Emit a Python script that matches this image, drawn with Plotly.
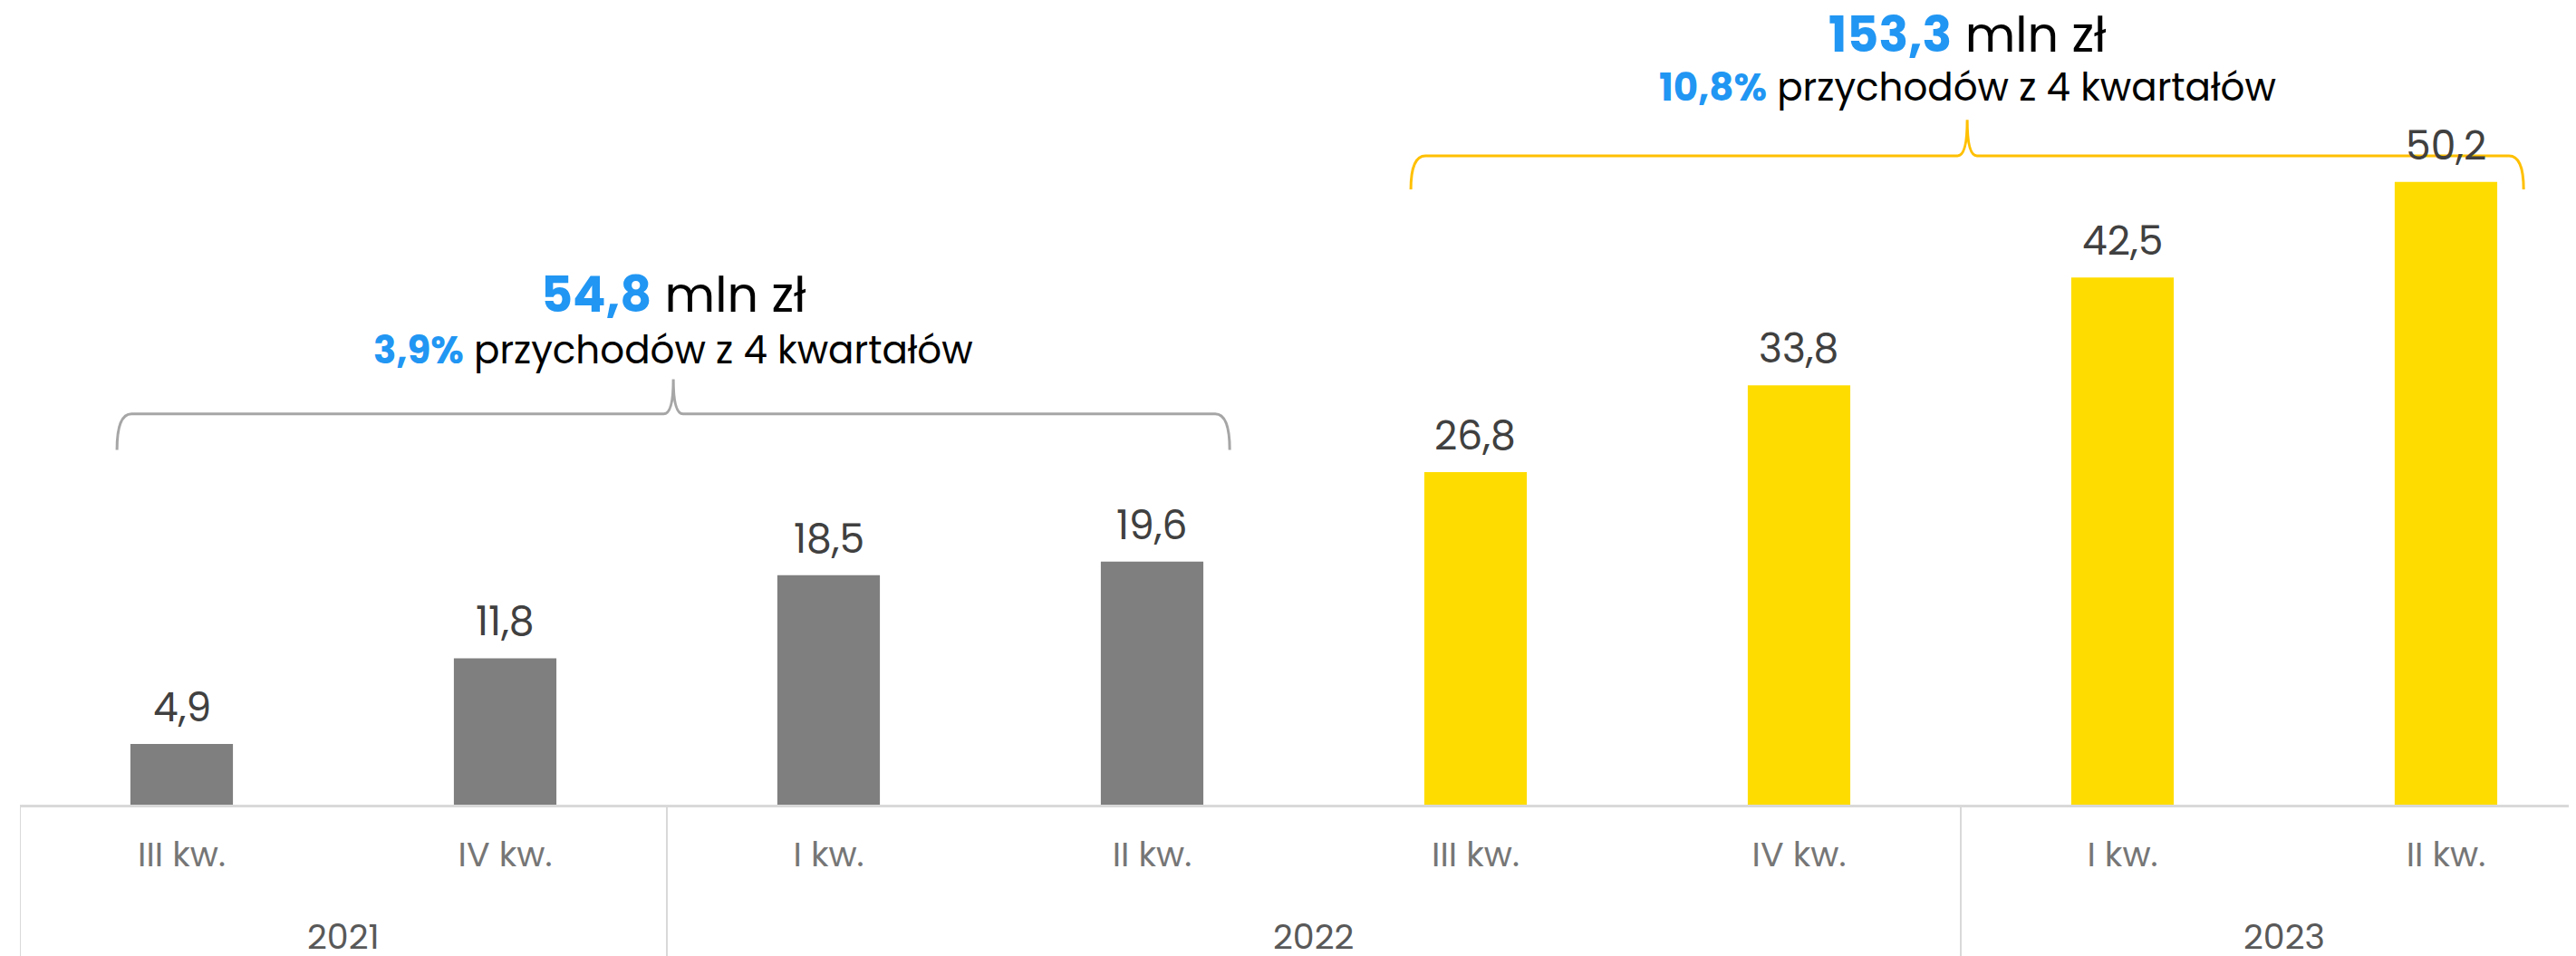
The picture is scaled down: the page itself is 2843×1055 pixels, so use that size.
import plotly.graph_objects as go

# ---- data ----
quarters = ["III kw.", "IV kw.", "I kw.", "II kw.", "III kw.", "IV kw.", "I kw.", "II kw."]
values = [4.9, 11.8, 18.5, 19.6, 26.8, 33.8, 42.5, 50.2]
years = ["2021", "2022", "2023"]
year_counts = [2, 4, 2]
sum_labels = ["54,8", "153,3"]
share_labels = ["3,9%", "10,8%"]
group_ranges = [(0, 3), (4, 7)]

GRAY = "#7F7F7F"
YELLOW = "#FFDC00"
BLUE = "#2196F3"
FONT = "Poppins, Open Sans, sans-serif"

colors = [GRAY] * 4 + [YELLOW] * 4
x = list(range(len(values)))
labels = [f"{v:.1f}".replace(".", ",") for v in values]

fig = go.Figure()
fig.add_trace(go.Bar(
    x=x, y=values, marker=dict(color=colors, line=dict(width=0)),
    hoverinfo="skip",
))

shapes = []
annotations = []

# data labels above bars
for xi, v, lab in zip(x, values, labels):
    annotations.append(dict(x=xi, y=v, xref="x", yref="y", text=lab, showarrow=False,
                            yanchor="bottom", yshift=8,
                            font=dict(family=FONT, size=44, color="#404040")))

# axis dividers between year groups
bounds = [-0.5]
for c in year_counts:
    bounds.append(bounds[-1] + c)
for b in bounds[:-1]:
    shapes.append(dict(type="line", xref="x", yref="paper", x0=b, x1=b, y0=0, y1=-0.2,
                       line=dict(color="#D9D9D9", width=2)))
for i, yr in enumerate(years):
    annotations.append(dict(x=(bounds[i] + bounds[i + 1]) / 2, y=-0.165, xref="x", yref="paper",
                            text=yr, showarrow=False, yanchor="middle",
                            font=dict(family=FONT, size=38, color="#595959")))

# brackets and group annotations
br_style = [
    dict(color="#A6A6A6", yb=28.6, yh=31.5, yt=34.3, ty=41.1, sy=36.6),
    dict(color="#FFC000", yb=49.6, yh=52.3, yt=55.2, ty=62.1, sy=57.8),
]
for (a, b), st, s, p in zip(group_ranges, br_style, sum_labels, share_labels):
    x0 = a - 0.2
    x1 = b + 0.24
    xm = (x0 + x1) / 2
    dx = 0.045
    dt = 0.03
    yb, yh, yt = st["yb"], st["yh"], st["yt"]
    path = (f"M {x0},{yb} Q {x0},{yh} {x0+dx},{yh} L {xm-dt},{yh} "
            f"Q {xm},{yh} {xm},{yt} Q {xm},{yh} {xm+dt},{yh} L {x1-dx},{yh} "
            f"Q {x1},{yh} {x1},{yb}")
    shapes.append(dict(type="path", xref="x", yref="y", path=path,
                       line=dict(color=st["color"], width=3)))
    annotations.append(dict(x=xm, y=st["ty"], xref="x", yref="y", showarrow=False,
                            yanchor="middle",
                            text=f"<b><span style='color:{BLUE}'>{s}</span></b> mln zł",
                            font=dict(family=FONT, size=54, color="#000000")))
    annotations.append(dict(x=xm, y=st["sy"], xref="x", yref="y", showarrow=False,
                            yanchor="middle",
                            text=f"<b><span style='color:{BLUE}'>{p}</span></b> przychodów z 4 kwartałów",
                            font=dict(family=FONT, size=42, color="#000000")))

fig.update_layout(
    width=2835, height=1047,
    margin=dict(l=14, r=0, t=0, b=167),
    paper_bgcolor="white", plot_bgcolor="white",
    showlegend=False, bargap=0.683,
    shapes=shapes, annotations=annotations,
    xaxis=dict(range=[-0.5, 7.402], tickvals=x, ticktext=quarters, showgrid=False,
               zeroline=False, showline=True, linecolor="#D9D9D9", linewidth=3,
               ticks="", ticklabelstandoff=19,
               tickfont=dict(family=FONT, size=38, color="#767676")),
    yaxis=dict(range=[0, 64.28], visible=False, showgrid=False, zeroline=False),
)

fig.write_html("out.html")
